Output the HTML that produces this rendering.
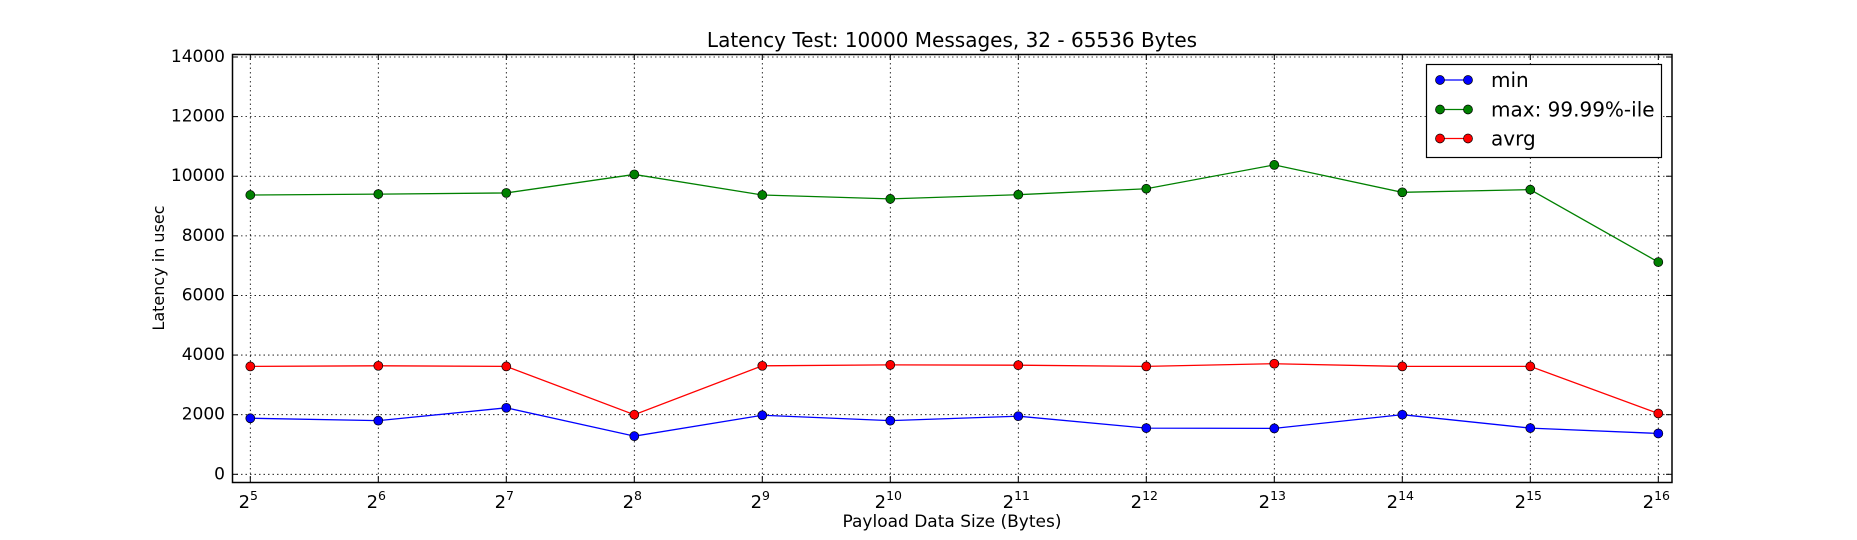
<!DOCTYPE html>
<html><head><meta charset="utf-8"><style>
body{margin:0;background:#fff;}
svg text{font-family:"DejaVu Sans","Liberation Sans",sans-serif;fill:#000;}
</style></head><body>
<svg id="chart" width="1857" height="535" xmlns="http://www.w3.org/2000/svg">
<rect width="1857" height="535" fill="#fff"/>
<text x="952" y="47" font-size="20" text-anchor="middle">Latency Test: 10000 Messages, 32 - 65536 Bytes</text>
<text x="0" y="0" font-size="16" text-anchor="middle" transform="translate(164,268) rotate(-90)">Latency in usec</text>
<text x="952" y="527" font-size="17" text-anchor="middle">Payload Data Size (Bytes)</text>
<g id="grid"></g><g id="ticks"></g><g id="series"></g>
<rect x="232.5" y="54.5" width="1439.5" height="428" fill="none" stroke="#000" stroke-width="1.5"/>
<g>
<rect x="1426.5" y="64.5" width="235" height="93" fill="#fff" stroke="#000" stroke-width="1.2"/>
<g><line x1="1440" y1="80" x2="1468" y2="80" stroke="#0000ff" stroke-width="1.3"/><circle cx="1440" cy="80" r="4.5" fill="#0000ff" stroke="#000" stroke-width="0.7"/><circle cx="1468" cy="80" r="4.5" fill="#0000ff" stroke="#000" stroke-width="0.7"/><text x="1491" y="87" font-size="20">min</text></g>
<g><line x1="1440" y1="109.5" x2="1468" y2="109.5" stroke="#008000" stroke-width="1.3"/><circle cx="1440" cy="109.5" r="4.5" fill="#008000" stroke="#000" stroke-width="0.7"/><circle cx="1468" cy="109.5" r="4.5" fill="#008000" stroke="#000" stroke-width="0.7"/><text x="1491" y="116.5" font-size="20">max: 99.99%-ile</text></g>
<g><line x1="1440" y1="138.5" x2="1468" y2="138.5" stroke="#ff0000" stroke-width="1.3"/><circle cx="1440" cy="138.5" r="4.5" fill="#ff0000" stroke="#000" stroke-width="0.7"/><circle cx="1468" cy="138.5" r="4.5" fill="#ff0000" stroke="#000" stroke-width="0.7"/><text x="1491" y="145.5" font-size="20">avrg</text></g>
</g>
</svg>
<script>
const exponents=[5,6,7,8,9,10,11,12,13,14,15,16];
const minVals=[1880,1800,2230,1280,1980,1800,1950,1550,1540,2000,1550,1370];
const maxVals=[9370,9400,9440,10060,9370,9240,9380,9580,10380,9460,9550,7120];
const avgVals=[3620,3640,3620,2000,3640,3670,3660,3620,3710,3620,3620,2040];
const yTicks=[0,2000,4000,6000,8000,10000,12000,14000];
const NS="http://www.w3.org/2000/svg";
function X(e){return 250.3+(e-5)*128;}
function Y(v){return 474.3-v*(417.3/14000);}
function mk(tag,attrs,parent){const el=document.createElementNS(NS,tag);for(const k in attrs)el.setAttribute(k,attrs[k]);parent.appendChild(el);return el;}
const grid=document.getElementById('grid'),ticks=document.getElementById('ticks'),ser=document.getElementById('series');
yTicks.forEach(v=>{
 const l=mk('line',{x1:232,x2:1672,y1:Y(v),y2:Y(v),stroke:'#000','stroke-width':0.8,'stroke-dasharray':'1.5,3'},grid);
 
 
 mk('line',{x1:232,x2:238,y1:Y(v),y2:Y(v),stroke:'#000'},ticks);
 mk('line',{x1:1666,x2:1672,y1:Y(v),y2:Y(v),stroke:'#000'},ticks);
 const t=mk('text',{x:225,y:Y(v)+5,'font-size':17,'text-anchor':'end'},ticks);
 t.textContent=v;
 
 
});
exponents.forEach(e=>{
 const l=mk('line',{x1:X(e),x2:X(e),y1:54,y2:482,stroke:'#000','stroke-width':0.8,'stroke-dasharray':'1.5,3'},grid);
 
 
 mk('line',{x1:X(e),x2:X(e),y1:476,y2:482,stroke:'#000'},ticks);
 mk('line',{x1:X(e),x2:X(e),y1:54,y2:60,stroke:'#000'},ticks);
 const t=mk('text',{x:X(e)-2,y:508,'font-size':18,'text-anchor':'middle'},ticks);
 t.innerHTML='2<tspan dy="-8" font-size="12.5">'+e+'</tspan>';
 
 
});
[[minVals,'#0000ff','min'],[maxVals,'#008000','max'],[avgVals,'#ff0000','avrg']].forEach(([vals,c,n])=>{
 const g=mk('g',{},ser);
 
 
 const pl=mk('polyline',{points:vals.map((v,i)=>X(exponents[i])+','+Y(v)).join(' '),fill:'none',stroke:c,'stroke-width':1.3},g);
 
 
 vals.forEach((v,i)=>{
  const p=mk('circle',{cx:X(exponents[i]),cy:Y(v),r:4.5,fill:c,stroke:'#000','stroke-width':0.7},g);
  
  
 });
});
</script>
</body></html>
